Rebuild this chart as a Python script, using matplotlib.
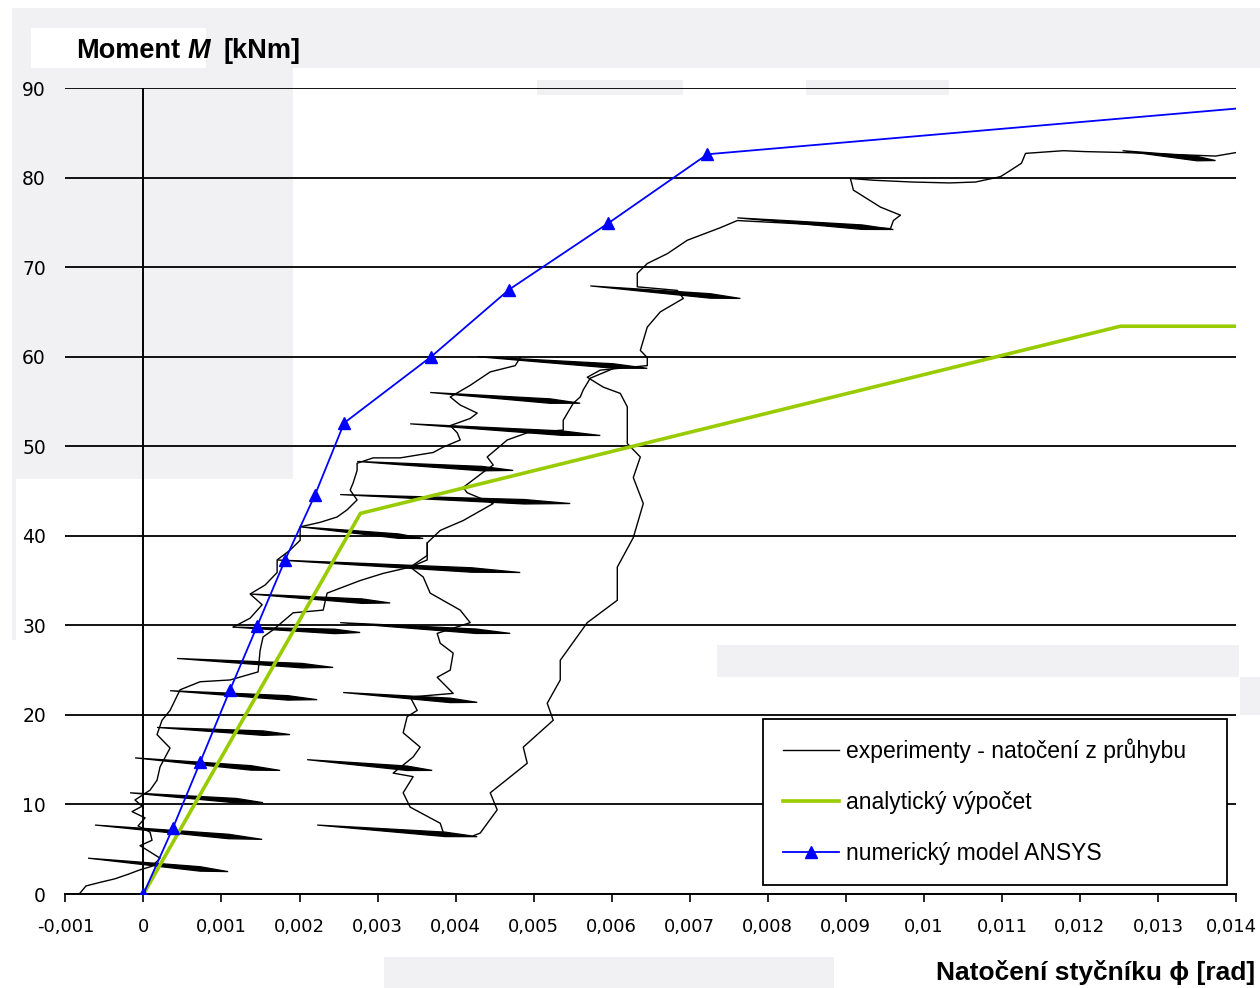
import matplotlib.pyplot as plt
from matplotlib.lines import Line2D
from matplotlib.patches import Rectangle
from matplotlib.transforms import ScaledTranslation

# --- data: x = natočení [rad], y = moment [kNm] ---
ansys_x = [0, 0.000379, 0.000726, 0.00111, 0.001456, 0.001815, 0.0022, 0.002572,
           0.003687, 0.004687, 0.005956, 0.007226, 0.014]
ansys_y = [0, 7.4, 14.7, 22.8, 29.9, 37.3, 44.6, 52.6, 60.0, 67.5, 74.9, 82.6, 87.7]

analyt_x = [0, 0.00278, 0.01252, 0.014]
analyt_y = [0, 42.5, 63.4, 63.4]

# experiment curves (backbones)
exp1_x = [-0.000813, -0.000736, -0.000556, -0.000364, -0.000197, -0.000044, 0.00011, 0.000213,
          0.000085, -0.000044, 0.00011, 0.000085, -0.000069, 0.000021, -0.000146, -0.000018,
          -0.000108, 0.000085, 0.000174, 0.000213, 0.000341, 0.000174, 0.000238, 0.000341,
          0.000469, 0.000726, 0.00111, 0.001469, 0.001495, 0.001533, 0.001662, 0.001918,
          0.002303, 0.002354, 0.002777, 0.003072, 0.003418, 0.003636, 0.003636, 0.003803,
          0.004097, 0.004482, 0.004149, 0.004097, 0.004354, 0.004482, 0.004405, 0.004662,
          0.004918, 0.005379, 0.005379, 0.005508, 0.005597, 0.005636, 0.005726, 0.005892, 0.00611]
exp1_y = [0.1, 0.9, 1.3, 1.7, 2.2, 2.7, 3.1, 4.0, 4.7, 5.4, 6.0, 6.9, 7.6, 8.5, 9.2, 9.8,
          10.5, 11.6, 12.7, 14.2, 16.3, 17.8, 19.4, 20.5, 22.8, 23.7, 23.9, 24.8, 27.2, 28.7,
          29.5, 31.4, 31.7, 33.6, 35.0, 35.8, 36.5, 37.3, 39.2, 40.6, 41.7, 43.6, 44.8, 45.4,
          47.1, 47.9, 48.8, 50.7, 51.5, 51.8, 52.9, 54.8, 55.5, 56.3, 57.6, 58.2, 59.0]

exp2_x = [0.001149, 0.001367, 0.001521, 0.001367, 0.001559, 0.001713, 0.001713, 0.001879,
          0.002008, 0.002008, 0.002264, 0.002482, 0.00261, 0.002738, 0.002649, 0.002687,
          0.002738, 0.002738, 0.002944, 0.00329, 0.003713, 0.003841, 0.004059, 0.004021,
          0.003931, 0.004187, 0.004277, 0.004059, 0.003931, 0.004187, 0.004444, 0.004764, 0.004828]
exp2_y = [29.8, 30.8, 32.3, 33.5, 34.5, 35.9, 37.3, 38.4, 39.5, 41.0, 41.5, 42.1, 42.9, 44.0,
          45.1, 45.9, 47.3, 48.1, 48.7, 48.7, 49.3, 49.9, 50.7, 51.5, 52.3, 53.1, 53.7, 54.6,
          55.5, 56.8, 58.3, 59.0, 59.9]

exp3_x = [0.003841, 0.003803, 0.003418, 0.003328, 0.003456, 0.0032, 0.003456, 0.003546,
          0.003328, 0.003379, 0.003508, 0.003418, 0.003969, 0.003764, 0.003931, 0.003969,
          0.003803, 0.003764, 0.004187, 0.004059, 0.003674, 0.003585, 0.003418, 0.003636, 0.003636]
exp3_y = [6.9, 7.9, 9.7, 11.3, 13.1, 13.5, 15.3, 16.4, 18.0, 19.8, 20.5, 22.0, 22.4, 24.2,
          25.0, 26.9, 28.0, 29.1, 30.3, 31.7, 33.6, 35.4, 36.5, 37.8, 39.2]

exp4_x = [0.004226, 0.004315, 0.004533, 0.004444, 0.004918, 0.004867, 0.005251, 0.005174,
          0.005341, 0.005341, 0.005687, 0.006072, 0.006072, 0.006277, 0.006405, 0.006277,
          0.006367, 0.0062, 0.0062, 0.00611, 0.005892, 0.005687, 0.005854, 0.006456,
          0.006456, 0.006367, 0.006456, 0.006623, 0.006918, 0.006841, 0.006328, 0.006328,
          0.006456, 0.006713, 0.006969, 0.007392, 0.00761, 0.009572, 0.00961, 0.0097,
          0.009444, 0.009097, 0.009059, 0.009354, 0.009854, 0.010328, 0.010662, 0.010982,
          0.01111, 0.011251, 0.011303, 0.01179, 0.012059, 0.012546, 0.013738, 0.014008]
exp4_y = [6.5, 6.8, 9.4, 11.3, 14.6, 16.4, 19.4, 21.3, 23.9, 26.1, 30.3, 32.8, 36.5, 39.8,
          43.6, 46.5, 48.8, 50.3, 54.4, 55.9, 56.6, 57.7, 58.5, 59.0, 59.9, 60.7, 63.3, 65.0,
          66.5, 67.4, 67.8, 69.3, 70.4, 71.5, 73.0, 74.4, 75.2, 74.3, 75.2, 75.8, 76.7, 78.6,
          79.9, 79.7, 79.5, 79.4, 79.5, 80.1, 80.8, 81.6, 82.7, 83.0, 82.9, 82.8, 82.4, 82.8]

# unloading / reloading loops (left end -> right end)
loop_x0 = [-0.00071, -0.000621, -0.000172, -0.000108, 0.000174, 0.000341, 0.000431, 0.001149,
           0.001367, 0.001713, 0.002008, 0.002521, 0.002738, 0.003418, 0.003674, 0.004277,
           0.005726, 0.00761, 0.012546, 0.002226, 0.002097, 0.002559, 0.002521]
loop_y0 = [4.0, 7.7, 11.3, 15.2, 18.6, 22.7, 26.3, 29.8, 33.5, 37.3, 41.0, 44.6, 48.3, 52.5,
           56.0, 60.0, 67.9, 75.5, 83.0, 7.7, 15.0, 22.5, 30.3]
loop_x1 = [0.001085, 0.001521, 0.001533, 0.001751, 0.001879, 0.002226, 0.002431, 0.002777,
           0.003162, 0.004828, 0.003585, 0.005469, 0.004738, 0.005854, 0.005597, 0.006456,
           0.007649, 0.00961, 0.013738, 0.004277, 0.0037, 0.004277, 0.0047]
loop_y1 = [2.5, 6.1, 10.2, 13.8, 17.8, 21.7, 25.3, 29.2, 32.5, 35.9, 39.7, 43.6, 47.3, 51.2,
           54.8, 58.7, 66.5, 74.2, 81.9, 6.4, 13.8, 21.4, 29.1]

xtick_vals = [-0.001, 0, 0.001, 0.002, 0.003, 0.004, 0.005, 0.006, 0.007, 0.008,
              0.009, 0.01, 0.011, 0.012, 0.013, 0.014]
xtick_labels = ['-0,001', '0', '0,001', '0,002', '0,003', '0,004', '0,005', '0,006', '0,007',
                '0,008', '0,009', '0,01', '0,011', '0,012', '0,013', '0,014']
ytick_vals = [0, 10, 20, 30, 40, 50, 60, 70, 80, 90]
ytick_labels = ['0', '10', '20', '30', '40', '50', '60', '70', '80', '90']

legend_labels = ['experimenty - natočení z průhybu', 'analytický výpočet', 'numerický model ANSYS']

plt.rcParams['font.family'] = ['Liberation Sans', 'DejaVu Sans']

W, H = 1260, 988
fig = plt.figure(figsize=(W / 100, H / 100), dpi=100)

# light grey scan blotches behind the chart (pixel boxes x0, y0, x1, y1)
grey = '#f1f0f3'
boxes = [(12, 8, 1260, 68), (12, 68, 293, 479), (12, 479, 16, 640), (537, 80, 683, 95),
         (806, 80, 949, 95), (717, 645, 1239, 677), (384, 957, 834, 988), (1240, 677, 1260, 715)]
for x0, y0, x1, y1 in boxes:
    fig.patches.append(Rectangle((x0 / W, 1 - y1 / H), (x1 - x0) / W, (y1 - y0) / H,
                                 transform=fig.transFigure, color=grey, lw=0, zorder=-2))
fig.patches.append(Rectangle((31 / W, 1 - 68 / H), 175 / W, 40 / H, transform=fig.transFigure,
                             color='white', lw=0, zorder=-1))

ax = fig.add_axes([65.4 / W, 94 / H, 1170.6 / W, 806 / H])
ax.set_facecolor('none')
ax.set_xlim(-0.001, 0.014)
ax.set_ylim(0, 90)
for s in ['left', 'right', 'top']:
    ax.spines[s].set_visible(False)
ax.spines['bottom'].set_linewidth(1.4)

ax.set_xticks(xtick_vals)
ax.set_xticklabels(xtick_labels, family='DejaVu Sans')
ax.set_yticks(ytick_vals)
ax.set_yticklabels(ytick_labels, family='DejaVu Sans')
ax.tick_params(axis='x', direction='out', length=6, width=1.2, pad=11, labelsize=13)
ax.tick_params(axis='y', length=0, pad=14, labelsize=13.5)
# last label sits right at the figure edge; nudge it in a little
last = ax.get_xticklabels()[-1]
last.set_transform(last.get_transform() + ScaledTranslation(-5 / 100, 0, fig.dpi_scale_trans))
ax.grid(axis='y', color='black', lw=1.3)
ax.set_axisbelow(True)
ax.axvline(0, color='black', lw=1.4, zorder=1)

# experiments
for xs, ys in [(exp1_x, exp1_y), (exp2_x, exp2_y), (exp3_x, exp3_y), (exp4_x, exp4_y)]:
    ax.plot(xs, ys, color='black', lw=1.0, zorder=2)

h = 0.25
for x0, y0, x1, y1 in zip(loop_x0, loop_y0, loop_x1, loop_y1):
    dx, dy = x1 - x0, y1 - y0
    px = [x0, x0 + 0.3 * dx, x0 + 0.8 * dx, x1, x0 + 0.8 * dx, x0 + 0.3 * dx]
    py = [y0, y0 + 0.3 * dy + 0.4 * h, y0 + 0.8 * dy + h, y1,
          y0 + 0.8 * dy - h, y0 + 0.3 * dy - 0.4 * h]
    ax.fill(px, py, color='black', lw=0.9, zorder=2)

ax.plot(analyt_x, analyt_y, color='#99cc00', lw=2.6, zorder=3)
ax.plot(ansys_x, ansys_y, color='#0000ff', lw=1.3, marker='^', ms=9,
        markevery=list(range(len(ansys_x) - 1)), zorder=4)

handles = [Line2D([], [], color='black', lw=1.0),
           Line2D([], [], color='#99cc00', lw=2.6),
           Line2D([], [], color='#0000ff', lw=1.3, marker='^', ms=9)]
leg = ax.legend(handles, legend_labels, loc='upper left',
                bbox_to_anchor=(0.596, 0.0136, 0.396, 0.204), mode='expand', borderaxespad=0,
                fontsize=16.5, fancybox=False, edgecolor='black', framealpha=1,
                borderpad=0.88, labelspacing=1.22, handlelength=2.45, handletextpad=0.3,
                numpoints=1)
leg.get_frame().set_linewidth(1.3)

# axis titles
t1 = fig.text(76 / W, 1 - 58 / H, 'Moment', fontsize=19.5, weight='bold', va='baseline')
t2 = ax.annotate('M', xy=(1, 0), xycoords=t1, xytext=(5, 0), textcoords='offset points',
                 fontsize=19.5, weight='bold', style='italic', va='bottom')
ax.annotate('[kNm]', xy=(1, 0), xycoords=t2, xytext=(10, 0), textcoords='offset points',
            fontsize=19.5, weight='bold', va='bottom')
fig.text(1255 / W, 1 - 980 / H, 'Natočení styčníku ϕ [rad]', fontsize=19, weight='bold',
         ha='right', va='baseline')

fig.savefig('out.png', dpi=100)
